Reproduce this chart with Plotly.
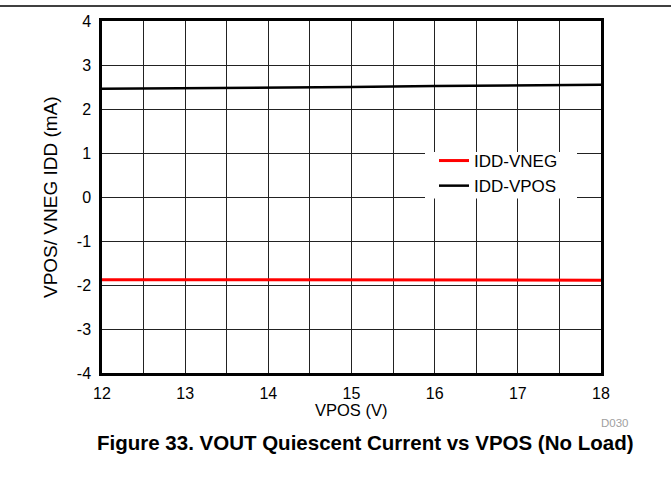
import plotly.graph_objects as go

# Supply voltage sweep (V)
vpos = [12, 13, 14, 15, 16, 17, 18]
# Quiescent current of each rail (mA)
idd_vneg = [-1.88, -1.88, -1.885, -1.885, -1.885, -1.89, -1.89]
idd_vpos = [2.46, 2.47, 2.49, 2.50, 2.52, 2.53, 2.55]

x_ticks = [12, 13, 14, 15, 16, 17, 18]
y_ticks = [-4, -3, -2, -1, 0, 1, 2, 3, 4]
y_tick_text = ["-4", "-3", "-2", "-1", "0", "1", "2", "3", "4"]

FONT = "Liberation Sans, Arial, sans-serif"

fig = go.Figure()
fig.add_trace(go.Scatter(x=vpos, y=idd_vneg, mode="lines", name="IDD-VNEG",
                         line=dict(color="#ff0000", width=3)))
fig.add_trace(go.Scatter(x=vpos, y=idd_vpos, mode="lines", name="IDD-VPOS",
                         line=dict(color="#000000", width=2.5)))

W, H = 671, 493
L, R, T, B = 102, 70, 21, 120
pw, ph = W - L - R, H - T - B


def px_to_paper(px, py):
    return (px - L) / pw, (H - B - py) / ph


axis_common = dict(showline=True, linecolor="black", linewidth=2.5, mirror=True,
                   showgrid=True, gridcolor="#222222", gridwidth=1,
                   zeroline=False, ticks="",
                   tickfont=dict(family=FONT, size=16, color="black"))

fig.update_layout(
    width=W, height=H,
    margin=dict(l=L, r=R, t=T, b=B),
    paper_bgcolor="white", plot_bgcolor="white",
    xaxis=dict(range=[12, 18], tickvals=x_ticks, ticklabelstandoff=4,
               minor=dict(dtick=0.5, showgrid=True, gridcolor="#222222", gridwidth=1, ticks=""),
               **axis_common),
    yaxis=dict(range=[-4, 4], tickvals=y_ticks, ticktext=y_tick_text,
               ticklabelstandoff=5, **axis_common),
    legend=dict(x=px_to_paper(434, 0)[0], y=px_to_paper(0, 143)[1],
                xanchor="left", yanchor="top", bgcolor="rgba(0,0,0,0)", borderwidth=0,
                font=dict(family=FONT, size=17, color="black"),
                tracegroupgap=0),
    showlegend=True,
)

# White panel behind the legend, interrupting the grid
bx0, by0 = px_to_paper(425, 152)
bx1, by1 = px_to_paper(577, 198.5)
fig.add_shape(type="rect", xref="paper", yref="paper", x0=bx0, x1=bx1, y0=by1, y1=by0,
              fillcolor="white", line=dict(width=0), layer="above")

# Axis titles
lx, ly = px_to_paper(50, 197)
fig.add_annotation(x=lx, y=ly, xref="paper", yref="paper", text="VPOS/ VNEG IDD (mA)",
                   textangle=-90, showarrow=False, xanchor="center", yanchor="middle",
                   font=dict(family=FONT, size=19, color="black"))
tx, ty = px_to_paper(351, 410)
fig.add_annotation(x=tx, y=ty, xref="paper", yref="paper", text="VPOS (V)",
                   showarrow=False, xanchor="center", yanchor="middle",
                   font=dict(family=FONT, size=16.5, color="black"))

# Drawing number and figure caption
dx, dy = px_to_paper(631, 423)
fig.add_annotation(x=dx, y=dy, xref="paper", yref="paper", text="D030",
                   xanchor="right", yanchor="middle", showarrow=False,
                   font=dict(family=FONT, size=11.5, color="#a0a0a0"))
cx, cy = px_to_paper(365, 442)
fig.add_annotation(x=cx, y=cy, xref="paper", yref="paper",
                   text="<b>Figure 33. VOUT Quiescent Current vs VPOS (No Load)</b>",
                   showarrow=False, xanchor="center", yanchor="middle",
                   font=dict(family=FONT, size=20.5, color="black"))

# Rule across the top of the page
x0, y0 = px_to_paper(0, 6)
x1, _ = px_to_paper(W, 6)
fig.add_shape(type="line", xref="paper", yref="paper", x0=x0, x1=x1, y0=y0, y1=y0,
              line=dict(color="black", width=1.5))

fig.write_html("out.html")
